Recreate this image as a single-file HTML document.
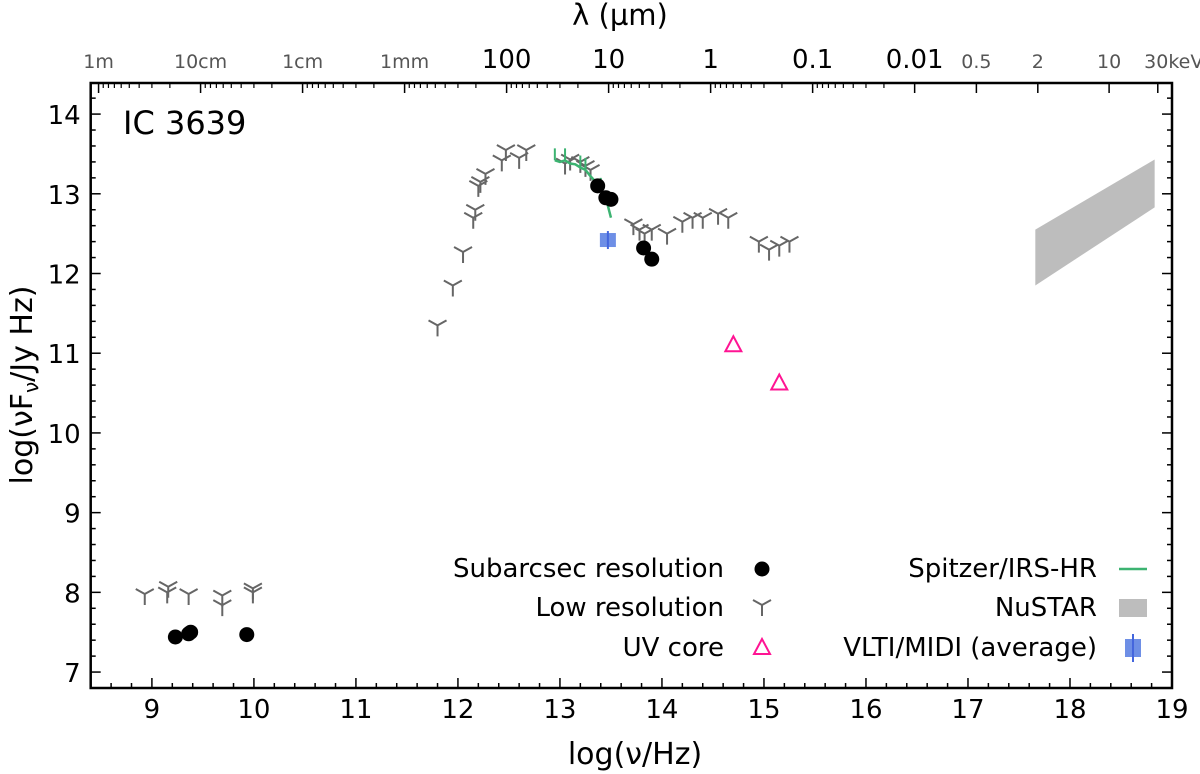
<!DOCTYPE html>
<html><head><meta charset="utf-8"><style>
body{margin:0;background:#fff;}
svg{display:block;font-family:"DejaVu Sans","Liberation Sans",sans-serif;}
</style></head><body>
<svg id="chart" width="1200" height="774"></svg>
<script>
const lowresX=[8.93,9.15,9.16,9.36,9.69,9.69,9.99,9.99,11.8,11.95,12.05,12.15,12.17,12.2,12.22,12.27,12.43,12.47,12.6,12.67,13.05,13.1,13.2,13.25,13.3,13.72,13.78,13.83,13.9,14.05,14.2,14.3,14.4,14.55,14.65,14.95,15.05,15.15,15.25];
const lowresY=[7.98,8.0,8.07,7.98,7.96,7.84,8.05,8.0,11.35,11.85,12.27,12.7,12.8,13.1,13.15,13.25,13.42,13.55,13.45,13.55,13.38,13.43,13.4,13.35,13.3,12.62,12.55,12.5,12.55,12.5,12.65,12.7,12.7,12.75,12.7,12.4,12.3,12.35,12.4];
const subX=[9.23,9.36,9.38,9.93,13.37,13.45,13.5,13.82,13.9];
const subY=[7.44,7.48,7.5,7.47,13.1,12.95,12.93,12.32,12.18];
const uvX=[14.7,15.15];
const uvY=[11.1,10.62];
const midiX=[13.47];
const midiY=[12.42];
const irsX=[12.95,13.0,13.05,13.1,13.15,13.2,13.25,13.3,13.35,13.4,13.45,13.47,13.5];
const irsY=[13.42,13.4,13.42,13.38,13.37,13.33,13.3,13.22,13.15,13.05,12.95,12.85,12.7];
const nustarX=[17.66,18.83,18.83,17.66];
const nustarY=[12.55,13.43,12.83,11.85];
const xTicks=[9,10,11,12,13,14,15,16,17,18,19];
const yTicks=[7,8,9,10,11,12,13,14];
const lamLabels=["1m","10cm","1cm","1mm","100","10","1","0.1","0.01"];
const lamMicron=[1e6,1e5,1e4,1e3,100,10,1,0.1,0.01];
const keVLabels=["0.5","2","10","30keV"];
const keVVals=[0.5,2,10,30];

const L=90.7,R=1172,T=83,B=688,XMIN=8.4,XMAX=19,YMIN=6.8,YMAX=14.39;
const sx=v=>L+(v-XMIN)/(XMAX-XMIN)*(R-L);
const sy=v=>B-(v-YMIN)/(YMAX-YMIN)*(B-T);
const svg=document.getElementById('chart');
const NS='http://www.w3.org/2000/svg';
function mk(tag,attrs,parent){const e=document.createElementNS(NS,tag);for(const k in attrs)e.setAttribute(k,attrs[k]);(parent||svg).appendChild(e);return e;}
function txt(s,x,y,attrs){const e=mk('text',Object.assign({x:x,y:y},attrs));e.textContent=s;return e;}

const nu=mk('polygon',{points:nustarX.map((v,i)=>sx(v)+','+sy(nustarY[i])).join(' '),fill:'#bdbdbd'});



function ymark(x,y,col,name){const g=mk('g',{stroke:col,'stroke-width':2,fill:'none'});


mk('path',{d:`M${x},${y} L${x},${y+11} M${x},${y} L${x-9},${y-5} M${x},${y} L${x+9},${y-5}`},g);return g;}
lowresX.forEach((v,i)=>{ymark(sx(v),sy(lowresY[i]),'#666','lowres-point');});

const ir=mk('polyline',{points:irsX.map((v,i)=>sx(v)+','+sy(irsY[i])).join(' '),fill:'none',stroke:'#3cb371','stroke-width':2.5});


[12.95,13.05,13.2,13.25,13.4].forEach(v=>{const i=irsX.indexOf(v);const l=mk('line',{x1:sx(v),x2:sx(v),y1:sy(irsY[i]),y2:sy(irsY[i]+0.15),stroke:'#3cb371','stroke-width':2});

});

midiX.forEach((v,i)=>{const x=sx(v),y=sy(midiY[i]);const g=mk('g',{});


mk('rect',{x:x-8,y:y-7,width:16,height:14,fill:'#6e8fe6'},g);mk('line',{x1:x,x2:x,y1:y-9,y2:y+9,stroke:'#4466dd','stroke-width':2},g);});

subX.forEach((v,i)=>{const c=mk('circle',{cx:sx(v),cy:sy(subY[i]),r:7.5,fill:'#000'});

});

uvX.forEach((v,i)=>{const x=sx(v),y=sy(uvY[i]);const p=mk('polygon',{points:`${x},${y-9} ${x-8},${y+6} ${x+8},${y+6}`,fill:'none',stroke:'#ff1493','stroke-width':2});

});

const fr=mk('rect',{x:L,y:T,width:R-L,height:B-T,fill:'none',stroke:'#000','stroke-width':2.5});



for(let v=8.6;v<=19.001;v+=0.2){const x=sx(v);const major=Math.abs(v-Math.round(v))<0.01;mk('line',{x1:x,x2:x,y1:B,y2:B-(major?10:5),stroke:'#000','stroke-width':1.5});}
xTicks.forEach(v=>{const t=txt(v,sx(v),B+30,{'font-size':26,'text-anchor':'middle',fill:'#000'});

});
for(let v=7;v<=14.39;v+=0.2){const y=sy(v);const major=Math.abs(v-Math.round(v))<0.01;mk('line',{x1:L,x2:L+(major?10:5),y1:y,y2:y,stroke:'#000','stroke-width':1.5});mk('line',{x1:R,x2:R-(major?10:5),y1:y,y2:y,stroke:'#000','stroke-width':1.5});}
yTicks.forEach(v=>{const t=txt(v,L-10,sy(v)+10,{'font-size':26,'text-anchor':'end',fill:'#000'});

});

const lg3e14=Math.log10(3e14);
lamMicron.forEach((m,i)=>{const v=lg3e14-Math.log10(m);const x=sx(v);mk('line',{x1:x,x2:x,y1:T,y2:T+10,stroke:'#000','stroke-width':1.5});
for(let k=2;k<10;k++){const xm=sx(v-Math.log10(k));if(xm>L&&xm<R)mk('line',{x1:xm,x2:xm,y1:T,y2:T+5,stroke:'#000','stroke-width':1.2});}
const big=i>=4;const t=txt(lamLabels[i],x,T-15,{'font-size':big?26:19,'text-anchor':'middle',fill:big?'#000':'#555'});

});
const lgkeV=Math.log10(2.418e17);
keVVals.forEach((k,i)=>{const x=sx(lgkeV+Math.log10(k));mk('line',{x1:x,x2:x,y1:T,y2:T+10,stroke:'#000','stroke-width':1.5});
const t=txt(keVLabels[i],x+(i==3?16:0),T-15,{'font-size':19,'text-anchor':'middle',fill:'#555'});

});

let t=txt('IC 3639',123,134,{'font-size':32,fill:'#000'});


t=txt('log(ν/Hz)',635,764,{'font-size':30,'text-anchor':'middle',fill:'#000'});


t=txt('λ (µm)',620,25,{'font-size':29,'text-anchor':'middle',fill:'#000'});


t=mk('text',{x:0,y:0,transform:'translate(32,385) rotate(-90)','font-size':30,'text-anchor':'middle',fill:'#000'});
t.innerHTML='log(νF<tspan font-size="20" dy="6">ν</tspan><tspan dy="-6">/Jy Hz)</tspan>';



const lg=mk('g',{fill:'#000'});


const rows=[577,616,656];
[['Subarcsec resolution','sub'],['Low resolution','low'],['UV core','uv']].forEach((r,i)=>{
const e=txt(r[0],724,rows[i],{'font-size':26,'text-anchor':'end'});


const cx=762,cy=rows[i]-8;
if(r[1]=='sub')mk('circle',{cx:cx,cy:cy,r:7.5,fill:'#000'});
if(r[1]=='low')ymark(cx,cy-3,'#666','legend-lowres-marker');
if(r[1]=='uv')mk('polygon',{points:`${cx},${cy-9} ${cx-8},${cy+6} ${cx+8},${cy+6}`,fill:'none',stroke:'#ff1493','stroke-width':2});});
[['Spitzer/IRS-HR','irs'],['NuSTAR','nu'],['VLTI/MIDI (average)','midi']].forEach((r,i)=>{
const e=txt(r[0],1097,rows[i],{'font-size':26,'text-anchor':'end'});


const cx=1133,cy=rows[i]-8;
if(r[1]=='irs')mk('line',{x1:cx-14,x2:cx+14,y1:cy,y2:cy,stroke:'#3cb371','stroke-width':2.5});
if(r[1]=='nu')mk('rect',{x:cx-14,y:cy-9,width:28,height:18,fill:'#bdbdbd'});
if(r[1]=='midi'){mk('rect',{x:cx-8,y:cy-9,width:16,height:18,fill:'#6e8fe6'});mk('line',{x1:cx,x2:cx,y1:cy-14,y2:cy+14,stroke:'#4466dd','stroke-width':2});}});
</script>
</body></html>
